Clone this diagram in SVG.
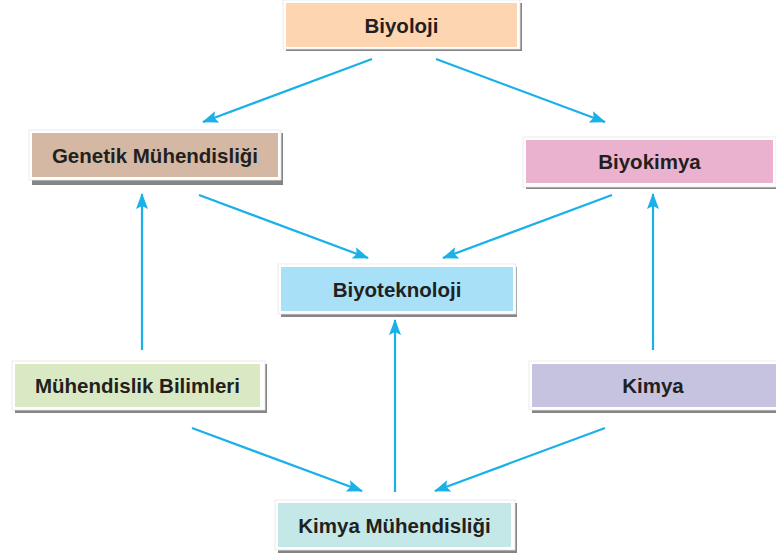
<svg xmlns="http://www.w3.org/2000/svg" width="776" height="559" viewBox="0 0 776 559">
<style>
.sh{fill:#858585}
.wb{fill:#ffffff;stroke:#e6e6e6;stroke-width:0.8}
.lbl{font-family:"Liberation Sans",Arial,sans-serif;font-weight:bold;font-size:20.5px;fill:#231f20;text-anchor:middle}
.arr{stroke:#1ab0e8;stroke-width:2.2;fill:none;marker-end:url(#ah)}
</style>
<defs>
<marker id="ah" markerUnits="userSpaceOnUse" viewBox="0 0 16 12" refX="15" refY="6" markerWidth="16" markerHeight="12" orient="auto">
<path d="M0,0 L16,6 L0,12 L3,6 Z" fill="#1ab0e8"/>
</marker>
</defs>
<rect width="776" height="559" fill="#ffffff"/>
<g id="biyoloji">
<rect class="sh" x="286" y="3" width="236" height="48"/>
<rect class="wb" x="283" y="0" width="237" height="49"/>
<rect x="286" y="3" width="231" height="44" fill="#fdd5b1"/>
<text class="lbl" x="401.5" y="32.5">Biyoloji</text>
</g>
<g id="genetik">
<rect class="sh" x="32" y="133" width="251" height="52"/>
<rect class="wb" x="29" y="130" width="252" height="50"/>
<rect x="32" y="133" width="246" height="44" fill="#d4b8a3"/>
<text class="lbl" x="155" y="162.5">Genetik Mühendisliği</text>
</g>
<g id="biyokimya">
<rect class="sh" x="526" y="140" width="252" height="49"/>
<rect class="wb" x="523" y="137" width="253" height="50"/>
<rect x="526" y="140" width="247" height="43" fill="#ebb2d0"/>
<text class="lbl" x="649.5" y="169">Biyokimya</text>
</g>
<g id="biyoteknoloji">
<rect class="sh" x="281" y="267" width="236" height="50"/>
<rect class="wb" x="278" y="264" width="238" height="50"/>
<rect x="281" y="267" width="232" height="44" fill="#a8e0f8"/>
<text class="lbl" x="397" y="296.5">Biyoteknoloji</text>
</g>
<g id="muhendislik">
<rect class="sh" x="15" y="364" width="252" height="49"/>
<rect class="wb" x="12" y="361" width="253" height="49"/>
<rect x="15" y="364" width="245" height="43" fill="#d8e9c4"/>
<text class="lbl" x="137.5" y="392.5">Mühendislik Bilimleri</text>
</g>
<g id="kimya">
<rect class="sh" x="532" y="364" width="250" height="49"/>
<rect class="wb" x="529" y="361" width="250" height="49"/>
<rect x="532" y="364" width="244" height="43" fill="#c6c3e1"/>
<text class="lbl" x="653" y="392.5">Kimya</text>
</g>
<g id="kimyamuh">
<rect class="sh" x="278" y="503" width="239" height="50"/>
<rect class="wb" x="275" y="500" width="240" height="50"/>
<rect x="278" y="503" width="233" height="44" fill="#c4e7e8"/>
<text class="lbl" x="394.5" y="532.5">Kimya Mühendisliği</text>
</g>
<g id="connectors">
<line class="arr" x1="372" y1="59" x2="203" y2="122"/>
<line class="arr" x1="436" y1="59" x2="605" y2="122"/>
<line class="arr" x1="199" y1="195" x2="368" y2="258"/>
<line class="arr" x1="612" y1="195" x2="443" y2="258"/>
<line class="arr" x1="142" y1="350" x2="142" y2="194"/>
<line class="arr" x1="653" y1="350" x2="653" y2="194"/>
<line class="arr" x1="395" y1="492" x2="395" y2="320"/>
<line class="arr" x1="192" y1="428" x2="362" y2="491"/>
<line class="arr" x1="605" y1="428" x2="435" y2="491"/>
</g>
</svg>
